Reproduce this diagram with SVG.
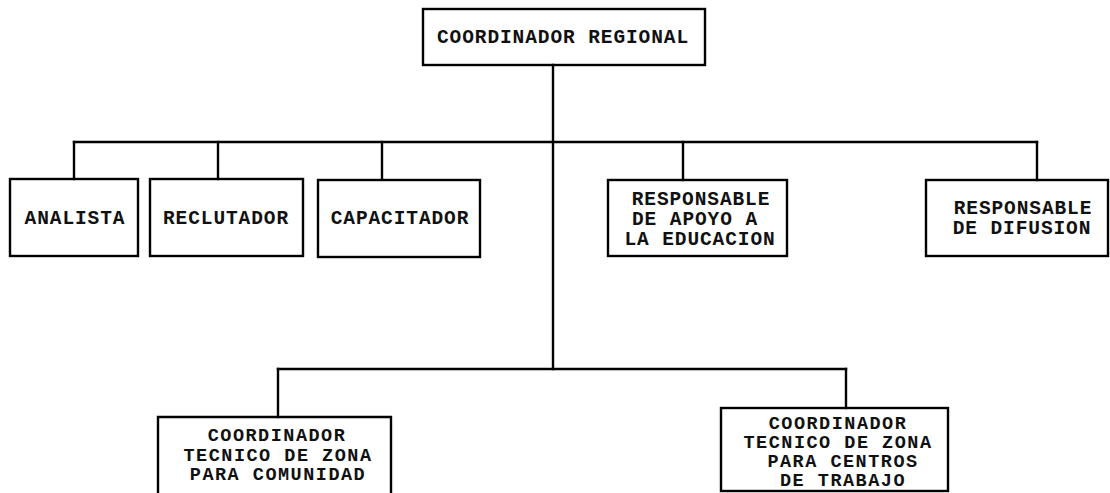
<svg xmlns="http://www.w3.org/2000/svg" width="1110" height="493" viewBox="0 0 1110 493">
<style>
.box{fill:none;stroke:#000;stroke-width:2.4}
.conn{fill:none;stroke:#000;stroke-width:2.4;stroke-linecap:square}
text{font-family:"Liberation Mono","Courier New",monospace;font-weight:bold;font-size:19.5px;letter-spacing:0.9px;fill:#111;text-anchor:middle}
text.sm{font-size:18.5px;letter-spacing:1.5px}
</style>
<rect width="1110" height="493" fill="#fff"/>
<g id="connectors">
<path class="conn" d="M553 65 V369"/>
<path class="conn" d="M74 142 H1037"/>
<path class="conn" d="M74 142 V179"/>
<path class="conn" d="M218 142 V179"/>
<path class="conn" d="M382 142 V179"/>
<path class="conn" d="M683 142 V180"/>
<path class="conn" d="M1037 142 V180"/>
<path class="conn" d="M278 369 H846"/>
<path class="conn" d="M278 369 V417"/>
<path class="conn" d="M846 369 V408"/>
</g>
<g id="coordinador-regional">
<rect class="box" x="423" y="9" width="282" height="56"/>
<text x="563" y="43">COORDINADOR REGIONAL</text>
</g>
<g id="analista">
<rect class="box" x="10" y="179" width="128" height="77"/>
<text x="75" y="224">ANALISTA</text>
</g>
<g id="reclutador">
<rect class="box" x="150" y="179" width="153" height="77"/>
<text x="226" y="224">RECLUTADOR</text>
</g>
<g id="capacitador">
<rect class="box" x="318" y="180" width="162" height="77"/>
<text x="400" y="224">CAPACITADOR</text>
</g>
<g id="responsable-apoyo">
<rect class="box" x="608" y="180" width="179" height="76"/>
<text x="701" y="205">RESPONSABLE</text>
<text x="695" y="225">DE APOYO A</text>
<text x="700" y="245">LA EDUCACION</text>
</g>
<g id="responsable-difusion">
<rect class="box" x="926" y="180" width="182" height="76"/>
<text x="1023" y="214">RESPONSABLE</text>
<text x="1022" y="234">DE DIFUSION</text>
</g>
<g id="coordinador-comunidad">
<path class="box" d="M158 500 V417 H391 V500"/>
<text class="sm" x="277" y="441">COORDINADOR</text>
<text class="sm" x="278" y="460.5">TECNICO DE ZONA</text>
<text class="sm" x="278" y="480">PARA COMUNIDAD</text>
</g>
<g id="coordinador-centros">
<rect class="box" x="721" y="408" width="227" height="83"/>
<text class="sm" x="838" y="429">COORDINADOR</text>
<text class="sm" x="838" y="448">TECNICO DE ZONA</text>
<text class="sm" x="843" y="467">PARA CENTROS</text>
<text class="sm" x="843" y="486">DE TRABAJO</text>
</g>
</svg>
